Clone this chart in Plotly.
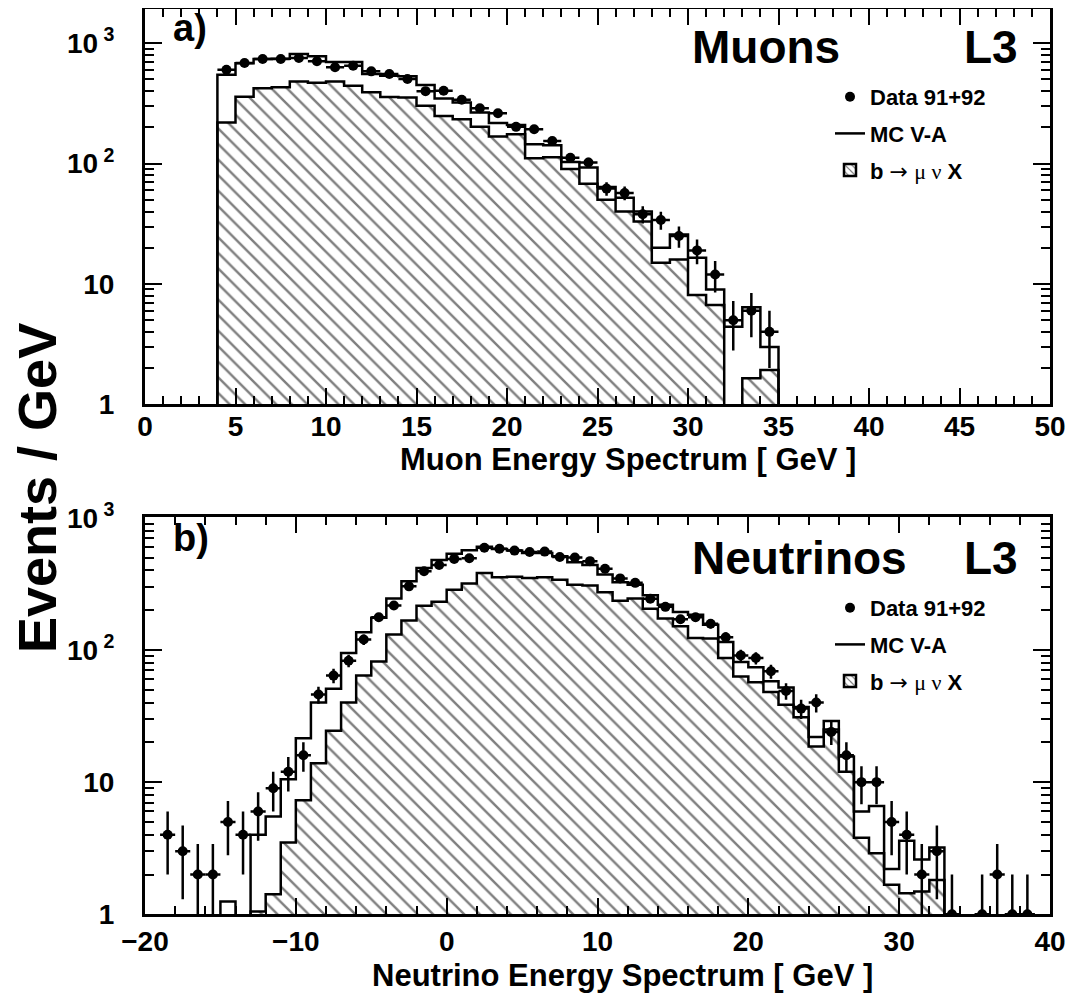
import plotly.graph_objects as go

# ---------------- DATA ----------------
# Panel a) Muon energy spectrum (1 GeV bins, low edges)
mu_bin_lo = [4, 5, 6, 7, 8, 9, 10, 11, 12, 13, 14, 15, 16, 17, 18, 19, 20, 21, 22, 23,
             24, 25, 26, 27, 28, 29, 30, 31, 32, 33, 34]
mu_mc = [547, 683, 740, 745, 815, 779, 700, 700, 555, 537, 531, 449, 348, 322, 266, 217,
         209, 145, 142, 103, 93, 64, 52, 40, 20, 25.8, 16.5, 9.0, 4.4, 6.4, 3.0]
mu_b = [220, 360, 423, 430, 482, 470, 482, 443, 391, 358, 355, 302, 249, 234, 202, 168,
        175, 111, 113, 90, 68, 50, 40, 33, 15, 16, 8.1, 6.7, 0, 1.65, 1.93]
mu_x = [4.5, 5.5, 6.5, 7.5, 8.5, 9.5, 10.5, 11.5, 12.5, 13.5, 14.5, 15.5, 16.5, 17.5,
        18.5, 19.5, 20.5, 21.5, 22.5, 23.5, 24.5, 25.5, 26.5, 27.5, 28.5, 29.5, 30.5,
        31.5, 32.5, 33.5, 34.5]
mu_data = [603, 685, 740, 740, 755, 708, 631, 651, 584, 555, 504, 400, 403, 339, 288, 262,
           202, 193, 154, 112, 102, 62, 57, 38, 34, 25, 19, 12, 5, 6, 4]
mu_err = [24.6, 26.2, 27.2, 27.2, 27.5, 26.6, 25.1, 25.5, 24.2, 23.6, 22.4, 20.0, 20.1,
          18.4, 17.0, 16.2, 14.2, 13.9, 12.4, 10.6, 10.1, 7.9, 7.5, 6.2, 5.8, 5.0, 4.4,
          3.5, 2.2, 2.4, 2.0]

# Panel b) Neutrino energy spectrum (1 GeV bins, low edges)
nu_mc_lo = [-15, -14, -13, -12, -11, -10, -9, -8, -7, -6, -5, -4, -3, -2, -1, 0, 1, 2, 3, 4,
            5, 6, 7, 8, 9, 10, 11, 12, 13, 14, 15, 16, 17, 18, 19, 20, 21, 22, 23, 24, 25,
            26, 27, 28, 29, 30, 31, 32]
nu_mc = [1.25, 0, 4.0, 5.5, 10.5, 21.5, 40, 51, 95, 136, 175, 245, 331, 418, 480, 535, 569,
         605, 582, 565, 543, 543, 512, 461, 440, 372, 325, 312, 260, 220, 194, 185, 155, 115,
         81, 74, 58, 52, 37, 22, 29, 15.6, 6.0, 6.6, 2.2, 3.6, 2.6, 3.2]
nu_b_lo = [-13, -12, -11, -10, -9, -8, -7, -6, -5, -4, -3, -2, -1, 0, 1, 2, 3, 4, 5, 6, 7, 8,
           9, 10, 11, 12, 13, 14, 15, 16, 17, 18, 19, 20, 21, 22, 23, 24, 25, 26, 27, 28, 29,
           30, 31, 32]
nu_b = [1.05, 1.42, 3.5, 7.3, 13.9, 24.5, 40, 64, 82, 131, 167, 216, 232, 286, 318, 383, 355,
        358, 350, 355, 340, 312, 308, 273, 236, 245, 205, 173, 151, 123, 122, 87, 63, 57, 48,
        38.5, 31, 18.6, 25, 12, 3.8, 2.9, 1.67, 1.44, 1.49, 1.82]
nu_x = [-18.5, -17.5, -16.5, -15.5, -14.5, -13.5, -12.5, -11.5, -10.5, -9.5, -8.5, -7.5,
        -6.5, -5.5, -4.5, -3.5, -2.5, -1.5, -0.5, 0.5, 1.5, 2.5, 3.5, 4.5, 5.5, 6.5, 7.5,
        8.5, 9.5, 10.5, 11.5, 12.5, 13.5, 14.5, 15.5, 16.5, 17.5, 18.5, 19.5, 20.5, 21.5,
        22.5, 23.5, 24.5, 25.5, 26.5, 27.5, 28.5, 29.5, 30.5, 31.5, 32.5, 33.5, 35.5, 36.5,
        37.5, 38.5]
nu_data = [4, 3, 2, 2, 5, 4, 6, 9, 12, 16, 46, 64, 83, 120, 177, 217, 303, 394, 440, 489,
           495, 593, 584, 565, 551, 555, 505, 500, 470, 412, 348, 322, 244, 212, 171, 177,
           158, 125, 91, 87, 69, 49, 36, 40, 24, 16, 10, 10, 5, 4, 2, 3, 1, 1, 2, 1, 1]
nu_err = [2.0, 1.7, 1.4, 1.4, 2.2, 2.0, 2.4, 3.0, 3.5, 4.0, 6.8, 8.0, 9.1, 11.0, 13.3, 14.7,
          17.4, 19.8, 21.0, 22.1, 22.2, 24.4, 24.2, 23.8, 23.5, 23.6, 22.5, 22.4, 21.7, 20.3,
          18.7, 17.9, 15.6, 14.6, 13.1, 13.3, 12.6, 11.2, 9.5, 9.3, 8.3, 7.0, 6.0, 6.3, 4.9,
          4.0, 3.2, 3.2, 2.2, 2.0, 1.4, 1.7, 1.0, 1.0, 1.4, 1.0, 1.0]

tick_text_y = ["1", "10", "10<sup> 2</sup>", "10<sup> 3</sup>"]
tick_vals_y = [1, 10, 100, 1000]

LEG_DATA = "Data 91+92"
LEG_MC = "MC V-A"
LEG_B = ("b <span style='font-family:DejaVu Sans;font-weight:normal'>\u2192</span> "
         "<span style='font-family:Liberation Serif;font-weight:normal'>\u03bc \u03bd</span> X")

# ---------------- HELPERS ----------------
# The page body has an 8 px margin; the figure is sized to fill the rest of the window.
OFF = 8
W, H = 1075 - OFF, 1001 - OFF
FLOOR = 0.3


def px(x):
    return (x - OFF) / W


def py(y):
    return 1 - (y - OFF) / H


def step_xy(lo_edges, vals, width=1.0):
    xs = [lo_edges[0]]
    ys = [FLOOR]
    for e, v in zip(lo_edges, vals):
        xs.append(e)
        ys.append(v if v > FLOOR else FLOOR)
    xs.append(lo_edges[-1] + width)
    ys.append(FLOOR)
    return xs, ys


HATCH = dict(shape="\\", size=11, solidity=0.22, fgcolor="black", bgcolor="white",
             fillmode="overlay")

fig = go.Figure()


def add_panel(xa, ya, legend, b_lo, b_vals, mc_lo, mc_vals, dx, dy, derr):
    bx, by = step_xy(b_lo, b_vals)
    fig.add_trace(go.Scatter(x=bx, y=by, mode="lines", line=dict(shape="hv", color="black", width=2.5),
                             fill="toself", fillcolor="white", fillpattern=HATCH,
                             showlegend=False, xaxis=xa, yaxis=ya, hoverinfo="skip"))
    mx, my = step_xy(mc_lo, mc_vals)
    fig.add_trace(go.Scatter(x=mx, y=my, mode="lines", line=dict(shape="hv", color="black", width=2.5),
                             name=LEG_MC, legend=legend, legendrank=2, legendgroup="m" + legend,
                             xaxis=xa, yaxis=ya))
    # legend-only entry for the hatched histogram
    fig.add_trace(go.Bar(x=[None], y=[None], name=LEG_B, legend=legend, legendrank=3,
                         legendgroup="b" + legend,
                         marker=dict(color="white", line=dict(color="black", width=2.5),
                                     pattern=dict(shape="\\", size=6, solidity=0.25, fgcolor="black",
                                                  bgcolor="white", fillmode="overlay")),
                         xaxis=xa, yaxis=ya))
    fig.add_trace(go.Scatter(x=dx, y=dy, mode="markers", name=LEG_DATA, legend=legend, legendrank=1,
                             legendgroup="d" + legend,
                             marker=dict(size=10, color="black", symbol="circle"),
                             error_y=dict(type="data", array=derr, color="black", thickness=2.5, width=0),
                             error_x=dict(type="constant", value=0.5, color="black", thickness=2.5, width=0),
                             xaxis=xa, yaxis=ya))


add_panel("x", "y", "legend", mu_bin_lo, mu_b, mu_bin_lo, mu_mc, mu_x, mu_data, mu_err)
add_panel("x2", "y2", "legend2", nu_b_lo, nu_b, nu_mc_lo, nu_mc, nu_x, nu_data, nu_err)

XDOM = [px(145), px(1050)]
axis_common = dict(showline=True, linecolor="black", linewidth=3, mirror="ticks", ticks="inside",
                   tickcolor="black", tickwidth=2, showgrid=False, zeroline=False, automargin=False,
                   tickfont=dict(size=28, color="black"))

fig.update_layout(
    width=W, height=H,
    margin=dict(l=0, r=0, t=0, b=0, autoexpand=False),
    paper_bgcolor="white", plot_bgcolor="white",
    font=dict(family="Liberation Sans, Arial, sans-serif", weight="bold", color="black"),
    showlegend=True,
    barmode="overlay",
    xaxis=dict(domain=XDOM, anchor="y", range=[0, 50], tickmode="array",
               tickvals=[0, 5, 10, 15, 20, 25, 30, 35, 40, 45, 50], ticklen=16,
               minor=dict(dtick=1, ticks="inside", ticklen=8, tickwidth=2, tickcolor="black"),
               ticklabelstandoff=-5, **axis_common),
    yaxis=dict(domain=[py(404.3), py(8.6)], anchor="x", type="log", range=[0, 3.288],
               tickmode="array", tickvals=tick_vals_y, ticktext=tick_text_y, ticklen=17,
               minor=dict(dtick="D1", ticks="inside", ticklen=9, tickwidth=2, tickcolor="black"),
               ticklabelstandoff=22, **axis_common),
    xaxis2=dict(domain=XDOM, anchor="y2", range=[-20, 40], tickmode="array",
                tickvals=[-20, -10, 0, 10, 20, 30, 40], ticklen=16,
                minor=dict(dtick=2, ticks="inside", ticklen=8, tickwidth=2, tickcolor="black"),
                ticklabelstandoff=0, **axis_common),
    yaxis2=dict(domain=[py(914.3), py(517.3)], anchor="x2", type="log", range=[0, 3.004],
                tickmode="array", tickvals=tick_vals_y, ticktext=tick_text_y, ticklen=17,
                minor=dict(dtick="D1", ticks="inside", ticklen=9, tickwidth=2, tickcolor="black"),
                ticklabelstandoff=22, **axis_common),
    legend=dict(x=px(830), y=py(76), xanchor="left", yanchor="top", bgcolor="rgba(0,0,0,0)",
                font=dict(size=22), tracegroupgap=5, traceorder="grouped"),
    legend2=dict(x=px(830), y=py(587), xanchor="left", yanchor="top", bgcolor="rgba(0,0,0,0)",
                 font=dict(size=22), tracegroupgap=5, traceorder="grouped"),
)

ann = [
    dict(text="Muons", x=px(690), y=py(47), xanchor="left", yanchor="middle", font=dict(size=46)),
    dict(text="L3", x=px(962), y=py(47), xanchor="left", yanchor="middle", font=dict(size=46)),
    dict(text="a)", x=px(171), y=py(28), xanchor="left", yanchor="middle", font=dict(size=38)),
    dict(text="Neutrinos", x=px(690), y=py(558), xanchor="left", yanchor="middle", font=dict(size=46)),
    dict(text="L3", x=px(962), y=py(558), xanchor="left", yanchor="middle", font=dict(size=46)),
    dict(text="b)", x=px(171), y=py(538), xanchor="left", yanchor="middle", font=dict(size=38)),
    dict(text="Muon Energy Spectrum [ GeV ]", x=px(628), y=py(459), xanchor="center",
         yanchor="middle", font=dict(size=31)),
    dict(text="Neutrino Energy Spectrum [ GeV ]", x=px(622), y=py(975), xanchor="center",
         yanchor="middle", font=dict(size=31)),
    dict(text="Events / GeV", x=px(37), y=py(488), xanchor="center", yanchor="middle",
         textangle=-90, font=dict(size=54)),
]
for a in ann:
    a.update(xref="paper", yref="paper", showarrow=False)
fig.update_layout(annotations=ann)

fig.write_html("out.html")
